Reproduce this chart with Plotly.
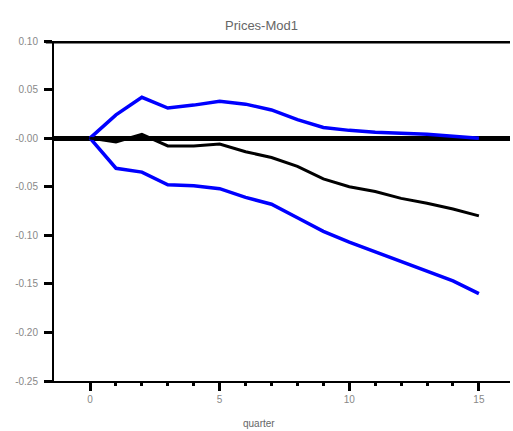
import plotly.graph_objects as go

quarters = list(range(16))
upper = [0.000, 0.024, 0.042, 0.031, 0.034, 0.038, 0.035, 0.029, 0.019, 0.011, 0.008, 0.006, 0.005, 0.004, 0.002, 0.000]
median = [0.000, -0.004, 0.004, -0.008, -0.008, -0.006, -0.014, -0.020, -0.029, -0.042, -0.050, -0.055, -0.062, -0.067, -0.073, -0.080]
lower = [0.000, -0.031, -0.035, -0.048, -0.049, -0.052, -0.061, -0.068, -0.082, -0.096, -0.107, -0.117, -0.127, -0.137, -0.147, -0.160]

title_text = "Prices-Mod1"
x_title = "quarter"
y_ticks = [0.10, 0.05, 0.00, -0.05, -0.10, -0.15, -0.20, -0.25]
y_tick_labels = ["0.10", "0.05", "-0.00", "-0.05", "-0.10", "-0.15", "-0.20", "-0.25"]
x_ticks = [0, 5, 10, 15]

fig = go.Figure()
fig.add_trace(go.Scatter(x=quarters, y=upper, mode="lines", line=dict(color="#0000ff", width=3.5)))
fig.add_trace(go.Scatter(x=quarters, y=lower, mode="lines", line=dict(color="#0000ff", width=3.5)))
fig.add_trace(go.Scatter(x=quarters, y=median, mode="lines", line=dict(color="#000000", width=3)))

font = "Liberation Sans, Arial, sans-serif"
fig.update_layout(
    width=513, height=431,
    margin=dict(l=54, r=3, t=41, b=50),
    plot_bgcolor="white", paper_bgcolor="white",
    showlegend=False,
    font=dict(family=font, size=10, color="#666666"),
    annotations=[
        dict(text=title_text, xref="paper", yref="paper", x=0.455, y=1.0, yshift=16,
             showarrow=False, font=dict(size=13, color="#666666", family=font), xanchor="center", yanchor="middle"),
        dict(text=x_title, xref="paper", yref="paper", x=0.45, y=0, yshift=-42,
             showarrow=False, font=dict(size=10, color="#666666", family=font), xanchor="center", yanchor="middle"),
    ],
    shapes=[
        dict(type="line", xref="paper", yref="y", x0=-0.018, x1=1.0, y0=0.10, y1=0.10,
             line=dict(color="black", width=5)),
    ],
)
fig.update_xaxes(
    range=[-1.39, 16.2], tickvals=x_ticks, ticks="outside", ticklen=8, tickwidth=3, tickcolor="black",
    showline=True, linecolor="black", linewidth=2, showgrid=False, zeroline=False,
    minor=dict(tickvals=list(range(16)), ticks="outside", ticklen=3, tickwidth=3, tickcolor="black"),
    tickfont=dict(size=10, color="#888888"),
)
fig.update_yaxes(
    range=[-0.25, 0.10], tickvals=y_ticks, ticktext=y_tick_labels, ticks="outside", ticklen=8, tickwidth=3,
    tickcolor="black", showline=True, linecolor="black", linewidth=2, showgrid=False,
    zeroline=True, zerolinecolor="black", zerolinewidth=5, ticklabelstandoff=4,
    tickfont=dict(size=10, color="#888888"),
)

fig.write_html("out.html")
